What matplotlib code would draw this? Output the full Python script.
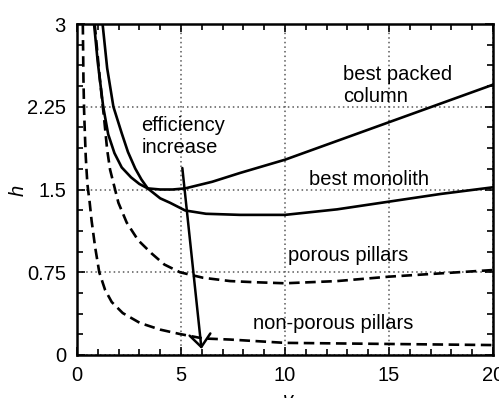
import numpy as np
import matplotlib
matplotlib.use('Agg')
import matplotlib.pyplot as plt

plt.rcParams['font.family'] = ['Liberation Sans', 'DejaVu Sans']

# curves (v, h)
packed_v = [0.82, 1.0, 1.26, 1.5, 1.8, 2.15, 2.6, 3.0, 3.4, 4.0, 4.6, 5.2, 6.5, 7.84, 10, 12.5, 15, 17.5, 20]
packed_h = [3.0, 2.65, 2.25, 2.0, 1.83, 1.70, 1.61, 1.55, 1.51, 1.50, 1.50, 1.51, 1.57, 1.65, 1.77, 1.94, 2.11, 2.28, 2.45]

mono_v = [1.23, 1.45, 1.75, 2.15, 2.45, 2.8, 3.1, 3.4, 4.0, 4.47, 5.2, 6.2, 7.84, 10, 12.5, 15, 17.5, 20]
mono_h = [3.0, 2.6, 2.25, 2.01, 1.84, 1.69, 1.59, 1.51, 1.42, 1.38, 1.31, 1.28, 1.27, 1.27, 1.32, 1.39, 1.46, 1.52]

porous_v = [0.85, 1.0, 1.1, 1.3, 1.45, 1.59, 1.83, 1.99, 2.39, 2.94, 3.59, 4.2, 4.95, 6.06, 7.36, 8.5, 10, 12.5, 15, 17.5, 20]
porous_h = [3.0, 2.7, 2.5, 2.15, 1.86, 1.68, 1.5, 1.38, 1.2, 1.04, 0.92, 0.82, 0.75, 0.70, 0.67, 0.66, 0.65, 0.67, 0.71, 0.74, 0.77]

nonpor_v = [0.28, 0.31, 0.34, 0.38, 0.42, 0.46, 0.5, 0.55, 0.6, 0.7, 0.87, 1.07, 1.35, 1.67, 2.2, 3.03, 4.0, 4.95, 6.06, 7.36, 10, 15, 20]
nonpor_h = [3.0, 2.5, 2.22, 2.0, 1.8, 1.67, 1.55, 1.47, 1.40, 1.22, 0.98, 0.75, 0.59, 0.48, 0.38, 0.29, 0.23, 0.19, 0.15, 0.14, 0.11, 0.10, 0.09]

xticks = [0, 5, 10, 15, 20]
yticks = [0, 0.75, 1.5, 2.25, 3]
yticklabels = ['0', '0.75', '1.5', '2.25', '3']

fig = plt.figure(figsize=(4.99, 3.98), dpi=100)
ax = fig.add_axes([77/499, 1-355/398, 416/499, 331/398])

lw = 1.9
ax.plot(packed_v, packed_h, color='black', lw=lw, solid_joinstyle='round')
ax.plot(mono_v, mono_h, color='black', lw=lw, solid_joinstyle='round')
ax.plot(porous_v, porous_h, color='black', lw=lw, linestyle=(0, (4.0, 2.1)))
ax.plot(nonpor_v, nonpor_h, color='black', lw=lw, linestyle=(0, (4.0, 2.1)))

ax.annotate('', xy=(6.0, 0.03), xytext=(5.05, 1.72),
            arrowprops=dict(arrowstyle='->, head_width=0.75, head_length=0.9',
                            color='black', lw=1.8))

fs = 14.5
ax.text(3.1, 1.98, 'efficiency\nincrease', fontsize=fs, ha='left', va='center')
ax.text(12.8, 2.44, 'best packed\ncolumn', fontsize=fs, ha='left', va='center')
ax.text(11.15, 1.59, 'best monolith', fontsize=fs, ha='left', va='center')
ax.text(10.14, 0.906, 'porous pillars', fontsize=fs, ha='left', va='center')
ax.text(8.46, 0.29, 'non-porous pillars', fontsize=fs, ha='left', va='center')

ax.set_xlim(0, 20)
ax.set_ylim(0, 3)
ax.set_xticks(xticks)
ax.set_yticks(yticks)
ax.set_yticklabels(yticklabels)
ax.set_xticks(np.arange(0, 21, 1), minor=True)
ax.set_yticks(np.arange(0, 3.01, 0.1875), minor=True)
ax.tick_params(which='both', direction='in', top=True, right=True, width=1.2,
               labelsize=fs, colors='black')
ax.tick_params(which='major', length=6, pad=8)
ax.tick_params(which='minor', length=4)
ax.grid(True, which='major', color='0.35', linestyle=(0, (1, 2)), lw=1.1)
for s in ax.spines.values():
    s.set_linewidth(1.8)

fig.text(18/499, 1-190/398, 'h', rotation=90, ha='center', va='center',
         fontsize=fs, style='italic')
fig.text(288/499, 1-391/398, 'v', ha='center', va='top', fontsize=fs, style='italic')

fig.savefig('out.png', dpi=100)
